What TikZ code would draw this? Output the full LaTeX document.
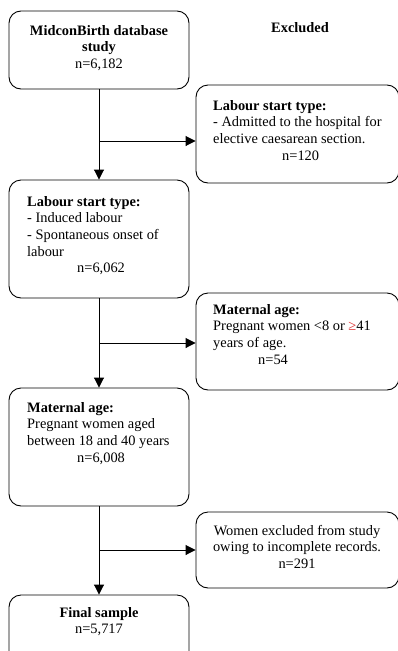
\documentclass[tikz,border=0pt]{standalone}
\usepackage{fontspec}
\setmainfont{Liberation Serif}
\usetikzlibrary{arrows.meta}
\definecolor{spellred}{RGB}{220,40,40}
\begin{document}
\begin{tikzpicture}[x=1pt,y=-1pt,
  box/.style={draw,line width=0.9pt,rounded corners=12pt,inner sep=0pt},
  txt/.style={inner sep=0pt,font=\fontsize{14.4}{16.6}\selectfont},
  arr/.style={line width=0.9pt,-{Triangle[length=10pt,width=10pt]}}]
\useasboundingbox (0,0) rectangle (397,651);
% main column boxes
\node[box,minimum width=180pt,minimum height=78pt] (b1) at (99,50) {};
\node[box,minimum width=180pt,minimum height=118pt] (b2) at (99,239) {};
\node[box,minimum width=180pt,minimum height=118pt] (b3) at (99,447) {};
\node[box,minimum width=180pt,minimum height=70pt] (b4) at (99,630) {};
% excluded boxes
\node[box,minimum width=203pt,minimum height=98pt] (e1) at (297.5,134) {};
\node[box,minimum width=203pt,minimum height=97pt] (e2) at (297.5,341.5) {};
\node[box,minimum width=203pt,minimum height=76pt] (e3) at (297.5,550) {};
% texts
\node[txt,anchor=north,align=center] (hd) at (300,20.4) {\strut\textbf{Excluded}};
\node[txt,anchor=north,align=center] (t1) at (99,23.4) {\strut\textbf{MidconBirth database}\\\textbf{study}\\n=6,182};
\node[txt,anchor=north west,align=left] (t2) at (27,194.4) {\strut\textbf{Labour start type:}\\- Induced labour\\- Spontaneous onset of\\labour\\\hspace*{50pt}n=6,062};
\node[txt,anchor=north west,align=left] (t3) at (27,400.4) {\strut\textbf{Maternal age:}\\Pregnant women aged\\between 18 and 40 years\\\hspace*{50pt}n=6,008};
\node[txt,anchor=north,align=center] (t4) at (99,605.4) {\strut\textbf{Final sample}\\n=5,717};
\node[txt,anchor=north west,align=left] (te1) at (213,98.4) {\strut\textbf{Labour start type:}\\- Admitted to the hospital for\\elective caesarean section.\\\hspace*{69pt}n=120};
\node[txt,anchor=north west,align=left] (te2) at (213,302.4) {\strut\textbf{Maternal age:}\\Pregnant women <8 or {\color{spellred}≥}41\\years of age.\\\hspace*{45pt}n=54};
\node[txt,anchor=north,align=center] (te3) at (297,523.4) {\strut Women excluded from study\\owing to incomplete records.\\n=291};
% connectors
\draw[arr] (b1.south) -- (b2.north);
\draw[arr] (b2.south) -- (b3.north);
\draw[arr] (b3.south) -- (b4.north);
\coordinate (h1) at (99,141);
\coordinate (h2) at (99,343);
\coordinate (h3) at (99,550);
\draw[arr] (h1) -- (h1 -| e1.west);
\draw[arr] (h2) -- (h2 -| e2.west);
\draw[arr] (h3) -- (h3 -| e3.west);
\end{tikzpicture}
\end{document}
